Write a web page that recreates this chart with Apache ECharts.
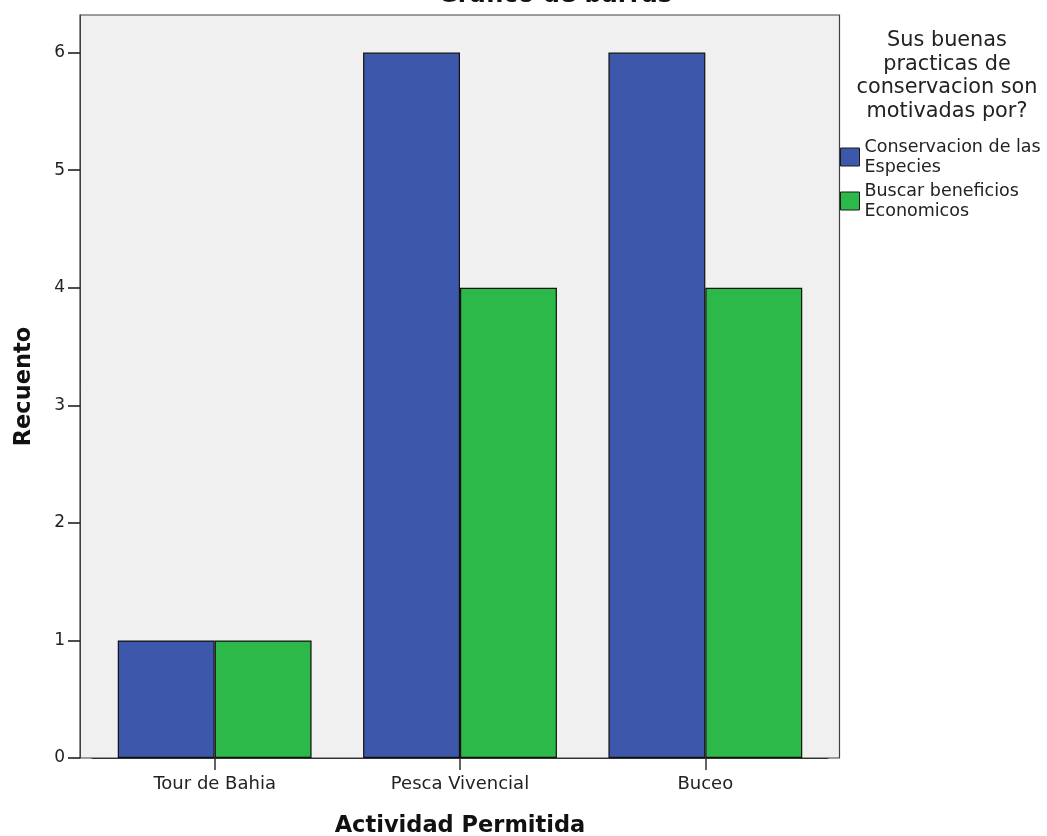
<!DOCTYPE html>
<html>
<head>
<meta charset="utf-8">
<script src="https://cdn.jsdelivr.net/npm/echarts@6/dist/echarts.min.js"></script>
<style>
html,body{margin:0;padding:0;background:#fff;}
#chart{width:1047px;height:836px;}
</style>
</head>
<body>
<div id="chart"></div>
<script>
const categories = ['Tour de Bahia', 'Pesca Vivencial', 'Buceo'];
const seriesNames = ['Conservacion de las\nEspecies', 'Buscar beneficios\nEconomicos'];
const conservacionValues = [1, 6, 6];
const beneficiosValues = [1, 4, 4];
const yTicks = [0, 1, 2, 3, 4, 5, 6];
const chartTitle = 'Gráfico de barras';
const legendTitle = 'Sus buenas\npracticas de\nconservacion son\nmotivadas por?';
const xName = 'Actividad Permitida';
const yName = 'Recuento';

const FONT = 'DejaVu Sans';
const chart = echarts.init(document.getElementById('chart'), null, {renderer: 'canvas'});

const option = {
  backgroundColor: '#ffffff',
  animation: false,
  graphic: [
    {
      type: 'rect', z: -10, silent: true,
      shape: {x: 80, y: 15, width: 759.5, height: 743},
      style: {fill: '#f0f0f0', stroke: '#404040', lineWidth: 1.2}
    },
    {
      type: 'text', z: 10,
      style: {
        text: chartTitle, x: 555, y: -16.3, align: 'center', verticalAlign: 'top',
        font: 'bold 24px "DejaVu Sans"', fill: '#111111', lineHeight: 24
      }
    },
    {
      type: 'text', z: 10,
      style: {
        text: legendTitle, x: 947, y: 28.5, align: 'center', verticalAlign: 'top',
        font: '20.8px "DejaVu Sans"', fill: '#222222', lineHeight: 23.8
      }
    }
  ],
  legend: {
    orient: 'vertical',
    left: 840,
    top: 137,
    padding: 0,
    itemWidth: 19,
    itemHeight: 18,
    itemGap: 4,
    icon: 'rect',
    selectedMode: false,
    textStyle: {fontFamily: FONT, fontSize: 17.5, color: '#222222', lineHeight: 20},
    data: seriesNames.map(n => ({name: n, itemStyle: {borderColor: '#1a1a1a', borderWidth: 1}}))
  },
  grid: {left: 92, right: 219, top: 15, bottom: 78, containLabel: false, outerBoundsMode: 'none'},
  xAxis: {
    type: 'category',
    data: categories,
    name: xName,
    nameLocation: 'middle',
    nameGap: 57,
    nameTextStyle: {fontFamily: FONT, fontSize: 22.5, fontWeight: 'bold', color: '#111111'},
    axisLine: {show: true, lineStyle: {color: '#303030', width: 1}},
    axisTick: {show: true, alignWithLabel: true, length: 12, lineStyle: {color: '#303030', width: 1.5}},
    axisLabel: {margin: 17, fontFamily: FONT, fontSize: 18, color: '#222222'},
    splitLine: {show: false}
  },
  yAxis: {
    type: 'value',
    min: 0,
    max: 6.32,
    interval: 1,
    offset: 12,
    name: yName,
    nameLocation: 'middle',
    nameGap: 44,
    nameRotate: 90,
    nameTextStyle: {fontFamily: FONT, fontSize: 22.5, fontWeight: 'bold', color: '#111111'},
    axisLine: {show: true, lineStyle: {color: '#404040', width: 1}},
    axisTick: {show: true, length: 12, customValues: yTicks, lineStyle: {color: '#202020', width: 1.6}},
    axisLabel: {margin: 15, fontFamily: FONT, fontSize: 17, color: '#222222', customValues: yTicks},
    splitLine: {show: false}
  },
  series: [
    {
      name: seriesNames[0], type: 'bar', data: conservacionValues,
      barGap: '0%', barCategoryGap: '21%',
      itemStyle: {color: '#3d58aa', borderColor: '#111111', borderWidth: 1.2}
    },
    {
      name: seriesNames[1], type: 'bar', data: beneficiosValues,
      barGap: '0%', barCategoryGap: '21%',
      itemStyle: {color: '#2db84a', borderColor: '#111111', borderWidth: 1.2}
    }
  ]
};
chart.setOption(option);
</script>
</body>
</html>
